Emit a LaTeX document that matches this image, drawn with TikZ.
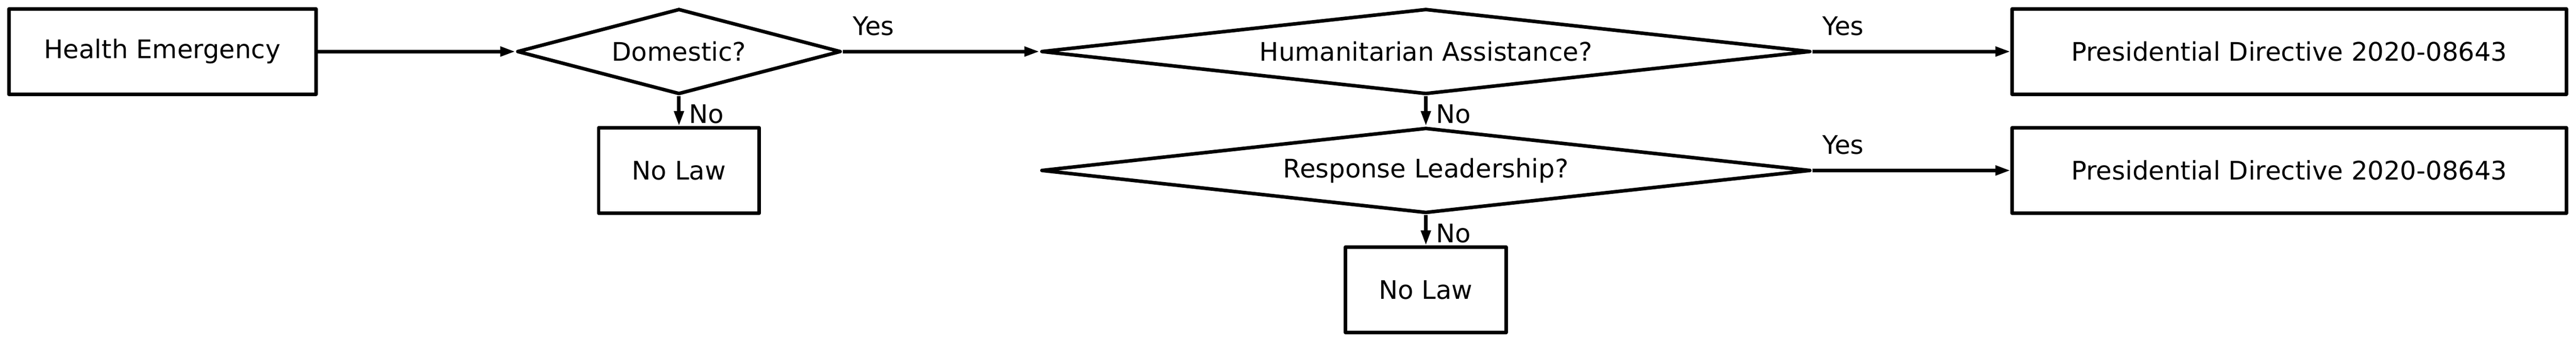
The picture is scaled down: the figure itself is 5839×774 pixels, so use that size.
\documentclass[tikz,border=0pt]{standalone}
\usepackage{fontspec}
\setmainfont{DejaVu Sans}
\usetikzlibrary{shapes.geometric,arrows.meta}
\tikzset{
mybox/.style={
  rectangle,
  draw=black,
  line width=2pt,
  line join=round,
  inner sep=0pt,
  minimum width=#1,
  minimum height=48.5pt,
  align=center,
  font=\fontsize{14.5}{17}\selectfont
  }
}
\tikzset{
  mydiam/.style 2 args={
    diamond,
    draw=black,
    line width=2pt,
    line join=round,
    inner sep=0pt,
    aspect=#2,
    minimum width=#1,
    minimum height=48.5pt,
    align=center,
    font=\fontsize{14.5}{17}\selectfont
  },
  mylab/.style={
    inner sep=4.8pt,
    font=\fontsize{14.5}{17}\selectfont
  }
}

\begin{document}
\begin{tikzpicture}[x=0.25pt,y=0.25pt,
    >={Triangle[length=8.5pt,width=5.3pt]},
    line width=2pt]
\useasboundingbox (0,0) rectangle (5839,-774);

\node[mybox=174pt] at (368,-117) (health) {Health Emergency};
\node[mydiam={183.5pt}{3.78}] at (1539,-117) (domestic) {Domestic?};
\node[mybox=91pt] at (1539,-387) (nolawA) {No Law};

\node[mydiam={436pt}{8.99}] at (3232,-117) (humanit) {Humanitarian Assistance?};
\node[mydiam={436pt}{8.99}] at (3232,-387) (response) {Response Leadership?};
\node[mybox=91pt] at (3232,-658) (nolawB) {No Law};

\node[mybox=314pt] at (5189,-117) (directA) {Presidential Directive 2020-08643};
\node[mybox=314pt] at (5189,-387) (directB) {Presidential Directive 2020-08643};

\begin{scope}
\draw[->]
  (health.east) -- (domestic.west);
\draw[->]
  (domestic.east) -- node[mylab,above right,pos=0,yshift=3.25pt] {Yes} (humanit.west);
\draw[->]
  (domestic.south) -- node[mylab,right,pos=0.6] {No} (nolawA.north);
\draw[->]
  (humanit.east) -- node[mylab,above right,pos=0,yshift=3.25pt] {Yes} (directA.west);
\draw[->]
  (humanit.south) -- node[mylab,right,pos=0.6] {No} (response.north);
\draw[->]
  (response.east) -- node[mylab,above right,pos=0,yshift=3.25pt] {Yes} (directB.west);
\draw[->]
  (response.south) -- node[mylab,right,pos=0.6] {No} (nolawB.north);
\end{scope}
\end{tikzpicture}
\end{document}
